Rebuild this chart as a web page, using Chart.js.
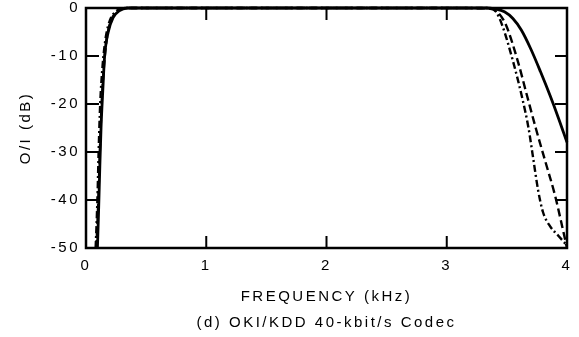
<!DOCTYPE html>
<html>
<head>
<meta charset="utf-8">
<script src="https://cdn.jsdelivr.net/npm/chart.js@4.4.1/dist/chart.umd.min.js"></script>
<style>
html,body{margin:0;padding:0;background:#fff;}
#wrap{width:579px;height:337px;position:relative;}
</style>
</head>
<body>
<div id="wrap"><canvas id="c" width="579" height="337"></canvas></div>
<script>
// ---- data ----
const xTicks = [0, 1, 2, 3, 4];
const yTicks = [0, -10, -20, -30, -40, -50];
const xTitle = 'FREQUENCY (kHz)';
const caption = '(d) OKI/KDD 40-kbit/s Codec';
const yTitle = 'O/I (dB)';

const solidFreq = [0.095, 0.105, 0.115, 0.125, 0.14, 0.155, 0.185, 0.225, 0.275, 0.345, 1, 2, 3, 3.33, 3.40, 3.48, 3.55, 3.62, 3.70, 3.78, 3.86, 3.93, 4.0];
const solidDb   = [-50, -42, -33, -25, -17, -10, -5, -2, -0.6, 0, 0, 0, 0, 0, -0.2, -0.8, -2.2, -4.6, -8.6, -13.3, -18.3, -23, -28];

const dashedFreq = [0.085, 0.095, 0.105, 0.115, 0.13, 0.15, 0.175, 0.21, 0.26, 0.33, 1, 2, 3, 3.35, 3.42, 3.49, 3.59, 3.67, 3.74, 3.82, 3.90, 3.96, 4.0];
const dashedDb   = [-50, -45, -38, -30, -20, -12, -6, -2.5, -0.7, 0, 0, 0, 0, -0.1, -0.8, -3.4, -11, -18.5, -25, -32, -39, -45.5, -50];

const dashDotFreq = [0.08, 0.088, 0.097, 0.105, 0.118, 0.138, 0.165, 0.2, 0.25, 0.32, 1, 2, 3, 3.35, 3.41, 3.46, 3.55, 3.63, 3.68, 3.72, 3.76, 3.80, 3.86, 3.93, 4.0];
const dashDotDb   = [-50, -45, -38, -30, -20, -12, -6, -2.5, -0.7, 0, 0, 0, 0, 0, -0.8, -3.5, -11, -19, -25, -31.5, -38, -42.5, -45.5, -47.5, -49.5];

// ---- helpers ----
const toPts = (xs, ys) => xs.map((v, i) => ({ x: v, y: ys[i] }));
const FONT = 'Liberation Sans, Arial, Helvetica, sans-serif';
const SPACING = '2.5px';

const spacingPlugin = {
  id: 'spacing',
  beforeUpdate(chart) { chart.ctx.letterSpacing = SPACING; },
  beforeLayout(chart) { chart.ctx.letterSpacing = SPACING; },
  beforeDraw(chart) { chart.ctx.letterSpacing = SPACING; }
};

const framePlugin = {
  id: 'frame',
  afterDatasetsDraw(chart) {
    const { ctx, chartArea: a, scales: { x, y } } = chart;
    ctx.save();
    ctx.strokeStyle = '#000';
    ctx.lineWidth = 2.5;
    ctx.strokeRect(a.left, a.top, a.right - a.left, a.bottom - a.top);
    ctx.lineWidth = 2;
    const len = 12;
    ctx.beginPath();
    xTicks.forEach(v => {
      if (v > x.min && v < x.max) {
        const p = x.getPixelForValue(v);
        ctx.moveTo(p, a.bottom); ctx.lineTo(p, a.bottom - len);
        ctx.moveTo(p, a.top); ctx.lineTo(p, a.top + len);
      }
    });
    yTicks.forEach(v => {
      if (v > y.min && v < y.max) {
        const p = y.getPixelForValue(v);
        ctx.moveTo(a.left, p); ctx.lineTo(a.left + len + 1, p);
        ctx.moveTo(a.right, p); ctx.lineTo(a.right - len, p);
      }
    });
    ctx.stroke();
    ctx.restore();
  }
};

const common = {
  borderColor: '#000',
  backgroundColor: '#000',
  pointRadius: 0,
  fill: false,
  cubicInterpolationMode: 'monotone',
  clip: 6
};

new Chart(document.getElementById('c'), {
  type: 'line',
  data: {
    datasets: [
      Object.assign({ label: 'solid', data: toPts(solidFreq, solidDb), borderWidth: 2.8 }, common),
      Object.assign({ label: 'dashed', data: toPts(dashedFreq, dashedDb), borderWidth: 2.4, borderDash: [8, 4] }, common),
      Object.assign({ label: 'dashdot', data: toPts(dashDotFreq, dashDotDb), borderWidth: 2.4, borderDash: [7, 3, 2, 3] }, common)
    ]
  },
  options: {
    responsive: false,
    animation: false,
    devicePixelRatio: 1,
    layout: { padding: { top: 8, right: 12, left: 0, bottom: 0 } },
    plugins: { legend: { display: false }, tooltip: { enabled: false } },
    scales: {
      x: {
        type: 'linear',
        min: 0, max: 4,
        afterBuildTicks: s => { s.ticks = xTicks.map(v => ({ value: v })); },
        grid: { display: false, drawTicks: false },
        border: { display: false },
        ticks: { color: '#000', font: { family: FONT, size: 15 }, padding: 9, maxRotation: 0, autoSkip: false },
        title: { display: true, text: [xTitle, caption], color: '#000', font: { family: FONT, size: 15, lineHeight: '26px' }, padding: { top: 0, bottom: 1 } },
        afterFit: s => { s.height = 89; s.paddingLeft = 0; s.paddingRight = 0; }
      },
      y: {
        type: 'linear',
        min: -50, max: 0,
        afterBuildTicks: s => { s.ticks = yTicks.map(v => ({ value: v })); },
        grid: { display: false, drawTicks: false },
        border: { display: false },
        ticks: { color: '#000', font: { family: FONT, size: 15 }, padding: 6, autoSkip: false },
        title: { display: true, text: yTitle, color: '#000', font: { family: FONT, size: 15 }, padding: { top: 17, bottom: 0 } },
        afterFit: s => { s.width = 86; s.paddingTop = 0; s.paddingBottom = 0; }
      }
    }
  },
  plugins: [spacingPlugin, framePlugin]
});
</script>
</body>
</html>
